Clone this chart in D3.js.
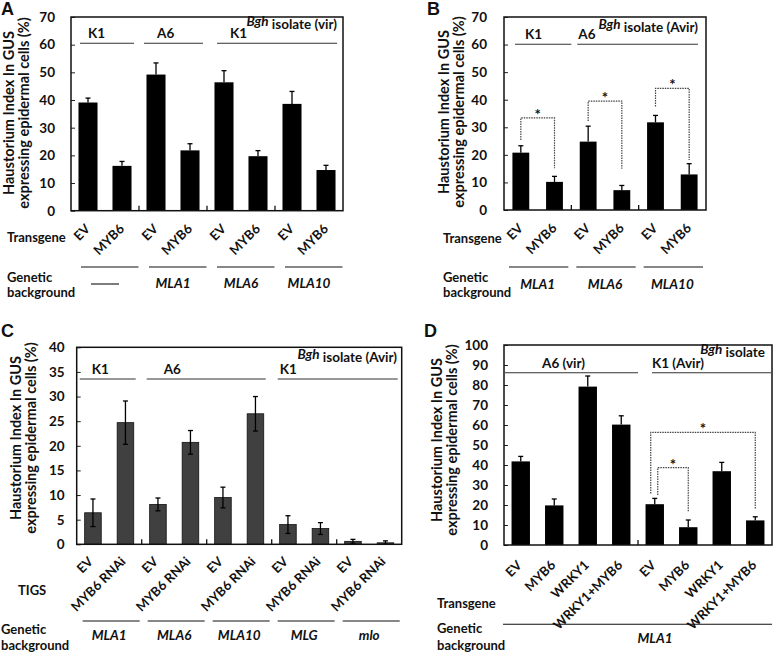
<!DOCTYPE html>
<html>
<head>
<meta charset="utf-8">
<script src="https://cdn.jsdelivr.net/npm/d3@7"></script>
<style>
  body { margin: 0; background: #fff; }
  svg text { font-family: Lato, "Open Sans", sans-serif; font-weight: bold; fill: #111; }
</style>
</head>
<body>
<div class="figure"></div>
<script>
// panel A
var aTransgene = ['EV', 'MYB6', 'EV', 'MYB6', 'EV', 'MYB6', 'EV', 'MYB6'];
var aValues = [39.1, 16.2, 49.2, 21.8, 46.4, 19.7, 38.6, 14.7];
var aErrors = [1.6, 1.6, 4.2, 2.4, 4.2, 2.0, 4.5, 1.7];
var aIsolates = ['K1', 'A6', 'K1'];
var aIsolateSpans = [[0, 1], [2, 3], [4, 7]];
var aBackgrounds = ['', 'MLA1', 'MLA6', 'MLA10'];
var aBackgroundSpans = [[0, 1], [2, 3], [4, 5], [6, 7]];

// panel B
var bTransgene = ['EV', 'MYB6', 'EV', 'MYB6', 'EV', 'MYB6'];
var bValues = [20.8, 10.2, 24.8, 7.2, 31.8, 12.9];
var bErrors = [2.5, 2.0, 5.6, 1.7, 2.5, 3.9];
var bIsolates = ['K1', 'A6'];
var bIsolateSpans = [[0, 1], [2, 5]];
var bBackgrounds = ['MLA1', 'MLA6', 'MLA10'];
var bBackgroundSpans = [[0, 1], [2, 3], [4, 5]];
// [from bar, to bar, bracket level, left end, right end]
var bBrackets = [[0, 1, 33.4, 25.4, 15.1], [2, 3, 39.5, 32.3, 15.0], [4, 5, 44.1, 37.5, 18.1]];

// panel C
var cTigs = ['EV', 'MYB6 RNAi', 'EV', 'MYB6 RNAi', 'EV', 'MYB6 RNAi', 'EV', 'MYB6 RNAi', 'EV', 'MYB6 RNAi'];
var cValues = [6.4, 24.7, 8.1, 20.7, 9.5, 26.5, 4.0, 3.2, 0.6, 0.3];
var cErrors = [2.8, 4.4, 1.3, 2.4, 2.1, 3.5, 1.8, 1.2, 0.4, 0.4];
var cIsolates = ['K1', 'A6', 'K1'];
var cIsolateSpans = [[0, 1], [2, 5], [6, 9]];
var cBackgrounds = ['MLA1', 'MLA6', 'MLA10', 'MLG', 'mlo'];
var cBackgroundSpans = [[0, 1], [2, 3], [4, 5], [6, 7], [8, 9]];

// panel D
var dTransgene = ['EV', 'MYB6', 'WRKY1', 'WRKY1+MYB6', 'EV', 'MYB6', 'WRKY1', 'WRKY1+MYB6'];
var dValues = [41.8, 19.8, 79.2, 60.2, 20.4, 8.9, 36.9, 12.3];
var dErrors = [2.5, 3.2, 5.3, 4.4, 2.9, 3.6, 4.4, 1.8];
var dIsolates = ['A6 (vir)', 'K1 (Avir)'];
var dIsolateSpans = [[0, 3], [4, 7]];
var dBackgrounds = ['MLA1'];
var dBackgroundSpans = [[0, 7]];
var dBrackets = [[4, 5, 38.7, 25.0, 16.7], [4, 7, 56.3, 25.8, 18.3]];

var svg = d3.select('div.figure')
    .append('svg')
        .attr('width', 775)
        .attr('height', 656);

var panels = [
    {letter: 'A', lx: 1, ly: 15,
     box: {l: 71, r: 343, t: 17, b: 210.7}, yMax: 70, yStep: 10, tickPad: 16,
     ylab: [14, 29], ylabY: 113,
     labels: aTransgene, values: aValues, errors: aErrors, both: false, fill: '#000', pad: 0.44,
     isolates: aIsolates, isoSpans: aIsolateSpans, isoY: 43.3,
     isoInset: [[9, 5], [5, 4], [10, 6]], isoDx: [8, 13, 13],
     title: 'isolate (vir)', titleX: 337, titleY: 29,
     rowLabel: 'Transgene', rowX: 7, rowY: 241.5, labDx: 3, labDy: 19,
     backgrounds: aBackgrounds, bgSpans: aBackgroundSpans, bgY: 267, bgInset: [10, 0.5],
     bgLabY: 288, bgDx: 0, genX: 7, genY: [282, 297],
     boundaries: [2, 4, 6], brackets: []},
    {letter: 'B', lx: 427, ly: 15,
     box: {l: 504, r: 706, t: 17, b: 210}, yMax: 70, yStep: 10, tickPad: 17,
     ylab: [449, 464], ylabY: 112,
     labels: bTransgene, values: bValues, errors: bErrors, both: false, fill: '#000', pad: 0.5,
     isolates: bIsolates, isoSpans: bIsolateSpans, isoY: 44.3,
     isoInset: [[11, 0], [6, 8]], isoDx: [10, 1],
     title: 'isolate (Avir)', titleX: 698, titleY: 32,
     rowLabel: 'Transgene', rowX: 443, rowY: 242.7, labDx: 3, labDy: 19,
     backgrounds: bBackgrounds, bgSpans: bBackgroundSpans, bgY: 267, bgInset: [5, 3],
     bgLabY: 289, bgDx: 0, genX: 443, genY: [282, 297],
     boundaries: [2, 4], brackets: bBrackets, brDx: [[0, 0], [0, 0], [0, 0]]},
    {letter: 'C', lx: 1, ly: 337,
     box: {l: 76.7, r: 401.7, t: 347.3, b: 544.3}, yMax: 40, yStep: 5, tickPad: 12,
     ylab: [21, 36], ylabY: 438,
     labels: cTigs, values: cValues, errors: cErrors, both: true, fill: '#404040', pad: 0.49,
     isolates: cIsolates, isoSpans: cIsolateSpans, isoY: 379,
     isoInset: [[3, 6], [5, 6], [6, 4]], isoDx: [12, 17, 2],
     title: 'isolate (Avir)', titleX: 397, titleY: 361.7,
     rowLabel: 'TIGS', rowX: 18, rowY: 595, labDx: 1, labDy: 18,
     backgrounds: cBackgrounds, bgSpans: cBackgroundSpans, bgY: 621, bgInset: [6, 2],
     bgLabY: 640, bgDx: 0, genX: 1, genY: [634, 650],
     boundaries: [2, 4, 6, 8], brackets: []},
    {letter: 'D', lx: 424, ly: 337,
     box: {l: 504, r: 772, t: 345, b: 545}, yMax: 100, yStep: 10, tickPad: 16,
     ylab: [442, 457], ylabY: 440,
     labels: dTransgene, values: dValues, errors: dErrors, both: false, fill: '#000', pad: 0.45,
     isolates: dIsolates, isoSpans: dIsolateSpans, isoY: 372.7,
     isoInset: [[1, 0], [14, 1]], isoDx: [37, 0],
     title: 'isolate', titleX: 765, titleY: 356.7,
     rowLabel: 'Transgene', rowX: 437, rowY: 608, labDx: 2, labDy: 21,
     backgrounds: dBackgrounds, bgSpans: dBackgroundSpans, bgY: 624.3, bgInset: [-1, 0],
     bgLabY: 643, bgDx: 17, genX: 437, genY: [633, 650],
     boundaries: [4], brackets: dBrackets, brDx: [[3, 0], [-4, 0]]}
];

panels.forEach(drawPanel);

function drawPanel(p) {
    var box = p.box;
    var g = svg.append('g');

    var x = d3.scaleBand()
        .domain(d3.range(p.values.length))
        .range([box.l, box.r])
        .paddingInner(p.pad)
        .paddingOuter(p.pad / 2);
    var cx = (i) => x(i) + x.bandwidth() / 2;
    var slotL = (i) => box.l + i * x.step();
    var slotR = (i) => box.l + (i + 1) * x.step();

    var y = d3.scaleLinear()
        .domain([0, p.yMax])
        .range([box.b, box.t]);

    g.append('text')
        .attr('x', p.lx)
        .attr('y', p.ly)
        .style('font-family', '"Liberation Sans", Arial, sans-serif')
        .style('font-size', '18px')
        .text(p.letter);

    // y axis
    var yAxis = g.append('g')
        .attr('transform', 'translate(' + box.l + ',0)')
        .call(d3.axisLeft(y)
            .tickValues(d3.range(0, p.yMax + 0.001, p.yStep))
            .tickSize(-4)
            .tickPadding(p.tickPad));
    yAxis.select('.domain').remove();
    yAxis.selectAll('line').attr('stroke', '#222');
    yAxis.selectAll('text')
        .style('font-size', '13.5px')
        .style('font-family', 'Lato, sans-serif')
        .attr('fill', '#111');

    ['Haustorium Index In GUS', 'expressing epidermal cells (%)'].forEach((t, k) => {
        g.append('text')
            .attr('transform', 'translate(' + p.ylab[k] + ',' + p.ylabY + ') rotate(-90)')
            .attr('text-anchor', 'middle')
            .style('font-size', '14.5px')
            .text(t);
    });

    // bars
    g.selectAll('.bar')
        .data(p.values)
        .enter()
        .append('rect')
            .attr('class', 'bar')
            .attr('x', (d, i) => x(i))
            .attr('width', x.bandwidth())
            .attr('y', (d) => y(d))
            .attr('height', (d) => box.b - y(d))
            .attr('fill', p.fill)
            .attr('stroke', p.both ? '#111' : 'none')
            .attr('stroke-width', 0.8);

    // error bars
    var err = g.append('g').attr('stroke', '#000').attr('stroke-width', 1.3);
    p.values.forEach((v, i) => {
        var hi = y(v + p.errors[i]);
        var lo = p.both ? y(Math.max(0, v - p.errors[i])) : y(v);
        err.append('line')
            .attr('x1', cx(i)).attr('x2', cx(i))
            .attr('y1', hi).attr('y2', lo);
        err.append('line')
            .attr('x1', cx(i) - 2.5).attr('x2', cx(i) + 2.5)
            .attr('y1', hi).attr('y2', hi);
        if (p.both) {
            err.append('line')
                .attr('x1', cx(i) - 2.5).attr('x2', cx(i) + 2.5)
                .attr('y1', lo).attr('y2', lo);
        }
    });

    // frame
    g.append('rect')
        .attr('x', box.l)
        .attr('y', box.t)
        .attr('width', box.r - box.l)
        .attr('height', box.b - box.t)
        .attr('fill', 'none')
        .attr('stroke', '#111')
        .attr('stroke-width', 1.5);

    p.boundaries.forEach((i) => {
        g.append('line')
            .attr('x1', slotL(i)).attr('x2', slotL(i))
            .attr('y1', box.b).attr('y2', box.b - 5)
            .attr('stroke', '#111')
            .attr('stroke-width', 1.3);
    });

    // x category labels, slanted 45 degrees
    var xAxis = g.append('g')
        .attr('transform', 'translate(0,' + box.b + ')')
        .call(d3.axisBottom(x).tickSize(0).tickFormat((i) => p.labels[i]));
    xAxis.select('.domain').remove();
    xAxis.selectAll('text')
        .style('font-size', '13px')
        .style('font-family', 'Lato, sans-serif')
        .attr('fill', '#111')
        .attr('x', 0)
        .attr('y', 0)
        .attr('dy', 0)
        .attr('text-anchor', 'end')
        .attr('transform', 'translate(' + p.labDx + ',' + p.labDy + ') rotate(-45)');

    // isolate annotation
    p.isolates.forEach((name, k) => {
        var s = p.isoSpans[k];
        var x1 = slotL(s[0]) + p.isoInset[k][0];
        var x2 = slotR(s[1]) - p.isoInset[k][1];
        g.append('line')
            .attr('x1', x1).attr('x2', x2)
            .attr('y1', p.isoY).attr('y2', p.isoY)
            .attr('stroke', '#333')
            .attr('stroke-width', 1.1);
        g.append('text')
            .attr('x', x1 + p.isoDx[k])
            .attr('y', p.isoY - 5)
            .style('font-size', '13.5px')
            .text(name);
    });

    var title = g.append('text')
        .attr('x', p.titleX)
        .attr('y', p.titleY)
        .attr('text-anchor', 'end')
        .style('font-size', '13.5px');
    title.append('tspan')
        .attr('dy', -3)
        .style('font-style', 'italic')
        .text('Bgh');
    title.append('tspan')
        .attr('dy', 3)
        .text(' ' + p.title);

    // row labels
    g.append('text')
        .attr('x', p.rowX)
        .attr('y', p.rowY)
        .style('font-size', '13px')
        .text(p.rowLabel);
    g.append('text')
        .attr('x', p.genX)
        .attr('y', p.genY[0])
        .style('font-size', '13px')
        .text('Genetic');
    g.append('text')
        .attr('x', p.genX)
        .attr('y', p.genY[1])
        .style('font-size', '13px')
        .text('background');

    p.backgrounds.forEach((name, k) => {
        var s = p.bgSpans[k];
        var x1 = slotL(s[0]) + p.bgInset[0];
        var x2 = slotR(s[1]) - p.bgInset[1];
        g.append('line')
            .attr('x1', x1).attr('x2', x2)
            .attr('y1', p.bgY).attr('y2', p.bgY)
            .attr('stroke', '#111')
            .attr('stroke-width', 1.1);
        var mid = (cx(s[0]) + cx(s[1])) / 2 + p.bgDx;
        if (name === '') {
            g.append('line')
                .attr('x1', mid - 14).attr('x2', mid + 14)
                .attr('y1', p.bgLabY - 4).attr('y2', p.bgLabY - 4)
                .attr('stroke', '#111')
                .attr('stroke-width', 1.1);
        } else {
            g.append('text')
                .attr('x', mid)
                .attr('y', p.bgLabY)
                .attr('text-anchor', 'middle')
                .style('font-size', '13.5px')
                .style('font-style', 'italic')
                .text(name);
        }
    });

    // significance brackets
    p.brackets.forEach((b, k) => {
        var xa = cx(b[0]) + p.brDx[k][0];
        var xb = cx(b[1]) + p.brDx[k][1];
        g.append('path')
            .attr('d', 'M' + xa + ',' + y(b[3]) + 'V' + y(b[2]) + 'H' + xb + 'V' + y(b[4]))
            .attr('fill', 'none')
            .attr('stroke', '#444')
            .attr('stroke-width', 1.2)
            .attr('stroke-dasharray', '1.5,1');
        g.append('text')
            .attr('x', (xa + xb) / 2)
            .attr('y', y(b[2]) + 2)
            .attr('text-anchor', 'middle')
            .style('font-size', '15px')
            .text('*');
    });
}
</script>
</body>
</html>
